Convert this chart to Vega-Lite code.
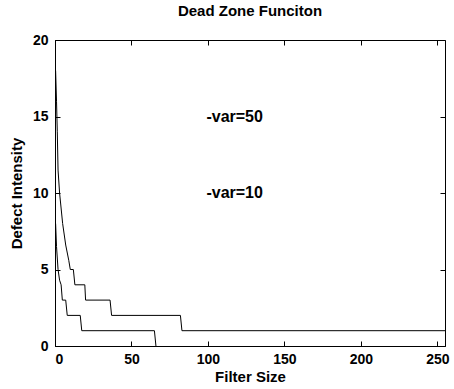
{
  "$schema": "https://vega.github.io/schema/vega-lite/v6.json",
  "width": 390,
  "height": 306,
  "autosize": {"type": "none"},
  "padding": {"left": 55, "top": 40, "right": 9, "bottom": 43},
  "background": "white",
  "title": {"text": "Dead Zone Funciton", "font": "Liberation Sans", "fontSize": 15, "fontWeight": "bold", "color": "black", "anchor": "middle", "offset": 14},
  "config": {
    "view": {"stroke": "black", "strokeWidth": 1},
    "axis": {"grid": false, "domainColor": "black", "tickColor": "black", "labelColor": "black", "titleColor": "black", "labelFont": "Liberation Sans", "titleFont": "Liberation Sans", "labelFontSize": 14, "labelFontWeight": "bold", "titleFontSize": 15, "titleFontWeight": "bold", "tickSize": -5}
  },
  "datasets": {
    "curves": [
      {"series": "var50", "x": 0.4, "y": 18},
      {"series": "var50", "x": 1, "y": 16},
      {"series": "var50", "x": 1.5, "y": 14},
      {"series": "var50", "x": 2, "y": 11.5},
      {"series": "var50", "x": 3, "y": 10},
      {"series": "var50", "x": 5, "y": 8},
      {"series": "var50", "x": 7, "y": 6.6},
      {"series": "var50", "x": 9, "y": 5.6},
      {"series": "var50", "x": 10, "y": 5},
      {"series": "var50", "x": 12, "y": 5},
      {"series": "var50", "x": 13, "y": 4},
      {"series": "var50", "x": 19.5, "y": 4},
      {"series": "var50", "x": 20, "y": 3},
      {"series": "var50", "x": 36, "y": 3},
      {"series": "var50", "x": 37, "y": 2},
      {"series": "var50", "x": 82, "y": 2},
      {"series": "var50", "x": 83, "y": 1},
      {"series": "var50", "x": 255, "y": 1},
      {"series": "var10", "x": 0.4, "y": 8},
      {"series": "var10", "x": 1, "y": 6.5},
      {"series": "var10", "x": 2, "y": 5},
      {"series": "var10", "x": 3, "y": 4.3},
      {"series": "var10", "x": 4, "y": 4},
      {"series": "var10", "x": 4.8, "y": 3},
      {"series": "var10", "x": 7, "y": 3},
      {"series": "var10", "x": 8, "y": 2},
      {"series": "var10", "x": 16.5, "y": 2},
      {"series": "var10", "x": 17.5, "y": 1},
      {"series": "var10", "x": 65, "y": 1},
      {"series": "var10", "x": 66, "y": 0}
    ],
    "labels": [
      {"x": 99, "y": 15, "label": "-var=50"},
      {"x": 99, "y": 10, "label": "-var=10"}
    ]
  },
  "layer": [
    {
      "data": {"name": "curves"},
      "mark": {"type": "line", "color": "black", "strokeWidth": 1, "clip": true},
      "encoding": {
        "x": {"field": "x", "type": "quantitative", "scale": {"domain": [0, 255], "nice": false}, "axis": {"title": "Filter Size", "values": [0, 50, 100, 150, 200, 250], "labelPadding": 11, "titlePadding": 3, "orient": "bottom"}},
        "y": {"field": "y", "type": "quantitative", "scale": {"domain": [0, 20], "nice": false}, "axis": {"title": "Defect Intensity", "values": [0, 5, 10, 15, 20], "labelPadding": 12, "titlePadding": 8, "orient": "left"}},
        "detail": {"field": "series"},
        "order": {"field": "x", "type": "quantitative"}
      }
    },
    {
      "data": {"name": "labels"},
      "mark": {"type": "text", "align": "left", "baseline": "middle", "font": "Liberation Sans", "fontSize": 16, "fontWeight": "bold", "color": "black"},
      "encoding": {
        "x": {"field": "x", "type": "quantitative", "axis": {"orient": "top", "values": [0, 50, 100, 150, 200, 250], "labels": false, "title": null, "domain": false}},
        "y": {"field": "y", "type": "quantitative", "axis": {"orient": "right", "values": [0, 5, 10, 15, 20], "labels": false, "title": null, "domain": false}},
        "text": {"field": "label"}
      }
    }
  ],
  "resolve": {"axis": {"x": "independent", "y": "independent"}}
}
